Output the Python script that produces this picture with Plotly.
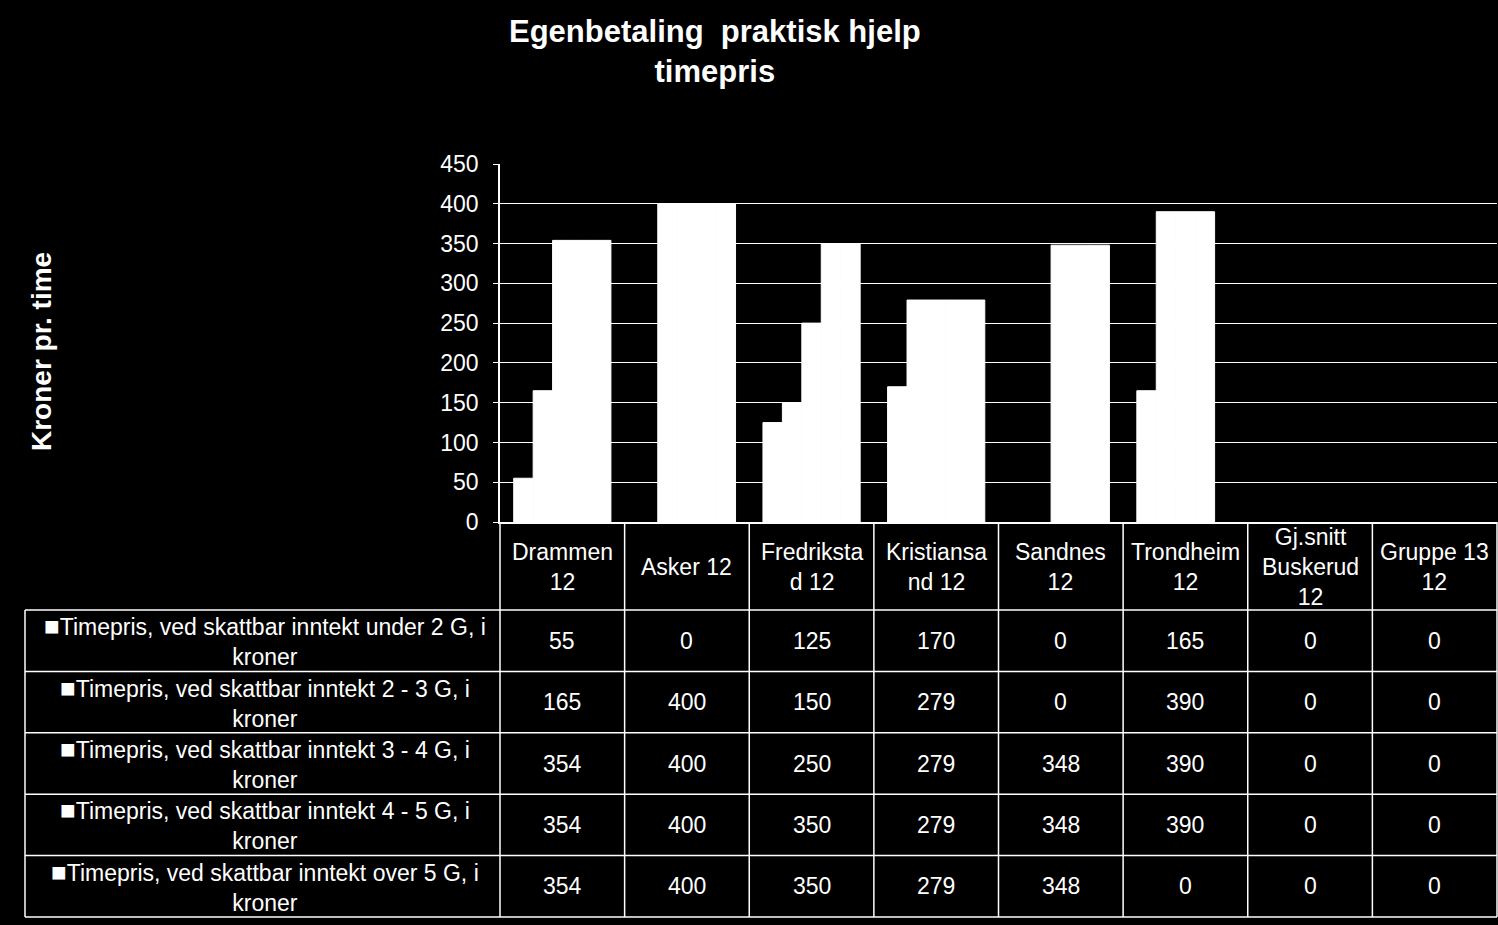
import plotly.graph_objects as go

categories = ["Drammen 12", "Asker 12", "Fredrikstad 12", "Kristiansand 12",
              "Sandnes 12", "Trondheim 12", "Gj.snitt Buskerud 12", "Gruppe 13 12"]
header_labels = ["Drammen<br>12", "Asker 12", "Fredriksta<br>d 12", "Kristiansa<br>nd 12",
                 "Sandnes<br>12", "Trondheim<br>12", "Gj.snitt<br>Buskerud<br>12", "Gruppe 13<br>12"]
series_names = [
    "Timepris, ved skattbar inntekt under 2 G, i kroner",
    "Timepris, ved skattbar inntekt 2 - 3 G, i kroner",
    "Timepris, ved skattbar inntekt 3 - 4 G, i kroner",
    "Timepris, ved skattbar inntekt 4 - 5 G, i kroner",
    "Timepris, ved skattbar inntekt over 5 G, i kroner",
]
row_labels = [
    "Timepris, ved skattbar inntekt under 2 G, i<br>kroner",
    "Timepris, ved skattbar inntekt 2 - 3 G, i<br>kroner",
    "Timepris, ved skattbar inntekt 3 - 4 G, i<br>kroner",
    "Timepris, ved skattbar inntekt 4 - 5 G, i<br>kroner",
    "Timepris, ved skattbar inntekt over 5 G, i<br>kroner",
]
under_2g = [55, 0, 125, 170, 0, 165, 0, 0]
g2_3 = [165, 400, 150, 279, 0, 390, 0, 0]
g3_4 = [354, 400, 250, 279, 348, 390, 0, 0]
g4_5 = [354, 400, 350, 279, 348, 390, 0, 0]
over_5g = [354, 400, 350, 279, 348, 0, 0, 0]
series_values = [under_2g, g2_3, g3_4, g4_5, over_5g]

W, H = 1498, 925
FONT = "Liberation Sans, Arial, sans-serif"

def py(p):
    return (H - p) / H

def px_(p):
    return p / W

x0_px, x1_px = 500, 1497
y0_px, y1_px = 522, 164
table_left = 25
header_bottom = 610
table_bottom = 917
n_rows = len(series_values)
row_h = (table_bottom - header_bottom) / n_rows
row_edges = [header_bottom + i * row_h for i in range(n_rows + 1)]

fig = go.Figure()
for name, vals in zip(series_names, series_values):
    fig.add_trace(go.Bar(x=categories, y=vals, name=name,
                         marker=dict(color="white",
                                     line=dict(width=[1 if v > 0 else 0 for v in vals],
                                               color="white"))))

fig.update_layout(
    width=W, height=H,
    margin=dict(l=0, r=0, t=0, b=0, autoexpand=False),
    paper_bgcolor="black", plot_bgcolor="black",
    barmode="group", bargap=0.22, bargroupgap=0,
    showlegend=False,
    font=dict(family=FONT, color="white"),
    xaxis=dict(domain=[px_(x0_px), px_(x1_px)], showticklabels=False,
               showgrid=False, zeroline=False, showline=True, linecolor="white",
               linewidth=1.5, ticks="", fixedrange=True, automargin=False),
    yaxis=dict(domain=[py(y0_px), py(y1_px)], range=[0, 450], dtick=50,
               showgrid=True, gridcolor="white", gridwidth=1.2, zeroline=False,
               showline=True, linecolor="white", linewidth=1.5,
               ticks="outside", ticklen=5, tickcolor="white", tickwidth=1.2,
               ticklabelstandoff=10, automargin=False,
               tickfont=dict(size=23, family=FONT, color="white")),
)

annotations = []
# Title
annotations.append(dict(text="<b>Egenbetaling  praktisk hjelp<br>timepris</b>",
                        xref="paper", yref="paper", x=px_(715), y=py(52),
                        xanchor="center", yanchor="middle", showarrow=False,
                        font=dict(size=31, family=FONT, color="white")))
# Y-axis title
annotations.append(dict(text="<b>Kroner pr. time</b>", textangle=-90,
                        xref="paper", yref="paper", x=px_(41), y=py(352),
                        xanchor="center", yanchor="middle", showarrow=False,
                        font=dict(size=28, family=FONT, color="white")))
# Header labels
for cat, lab in zip(categories, header_labels):
    annotations.append(dict(text=lab, xref="x", yref="paper", x=cat,
                            y=py((y0_px + header_bottom) / 2 + 1),
                            xanchor="center", yanchor="middle", showarrow=False,
                            font=dict(size=23, family=FONT, color="white")))
# Row labels and values
for r, (lab, vals) in enumerate(zip(row_labels, series_values)):
    yc = py((row_edges[r] + row_edges[r + 1]) / 2)
    annotations.append(dict(text='<span style="font-size:26px">■</span>' + lab,
                            xref="paper", yref="paper",
                            x=px_((table_left + x0_px) / 2 + 2), y=yc,
                            xanchor="center", yanchor="middle", showarrow=False,
                            align="center",
                            font=dict(size=23, family=FONT, color="white")))
    for cat, v in zip(categories, vals):
        annotations.append(dict(text=str(v), xref="x", yref="paper", x=cat, y=yc,
                                xanchor="center", yanchor="middle", showarrow=False,
                                font=dict(size=23, family=FONT, color="white")))
fig.update_layout(annotations=annotations)

shapes = []
line = dict(color="white", width=1.5)
n_cat = len(categories)
for i in range(n_cat + 1):
    xp = px_(x0_px + (x1_px - x0_px) * i / n_cat)
    shapes.append(dict(type="line", xref="paper", yref="paper", x0=xp, x1=xp,
                       y0=py(y0_px), y1=py(table_bottom), line=line))
shapes.append(dict(type="line", xref="paper", yref="paper", x0=px_(table_left),
                   x1=px_(table_left), y0=py(header_bottom), y1=py(table_bottom), line=line))
for e in row_edges:
    shapes.append(dict(type="line", xref="paper", yref="paper", x0=px_(table_left),
                       x1=px_(x1_px), y0=py(e), y1=py(e), line=line))
fig.update_layout(shapes=shapes)

fig.write_html("out.html")
